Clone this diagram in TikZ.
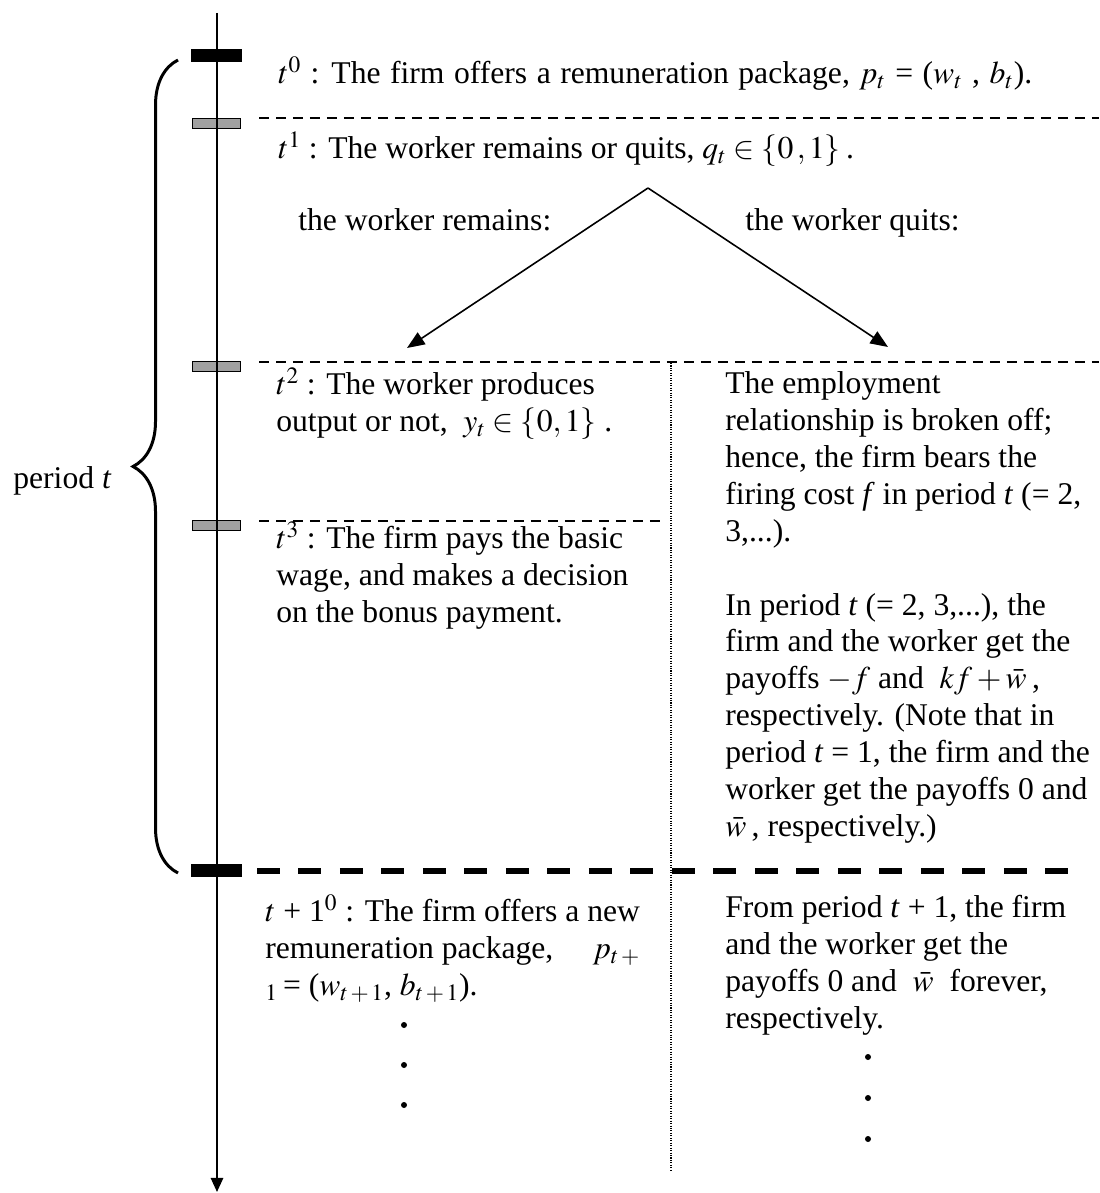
\documentclass[tikz,border=0pt]{standalone}
\usepackage{mathptmx}
\usepackage[no-math]{fontspec}
\setmainfont{Liberation Serif}
\usetikzlibrary{arrows.meta,decorations.pathreplacing}
\newcommand{\body}{\fontsize{18}{21}\selectfont}
\newcommand{\topline}{\rule{0pt}{15pt}}
\newcommand{\wbar}{\smash{$\bar{w}$}}

\begin{document}
\begin{tikzpicture}[x=0.02cm, y=-0.02cm,
    txt/.style={anchor=north west, inner sep=0pt, align=left, font=\body},
    lbl/.style={anchor=base west, inner sep=0pt, font=\body},
    tickbar/.style={draw, line width=0.8pt, fill=black!37, minimum width=0.95cm, minimum height=0.19cm, inner sep=0pt},
    bigbar/.style={fill=black, minimum width=1.02cm, minimum height=0.26cm, inner sep=0pt},
    sep/.style={dash pattern=on 0.2cm off 0.14cm, line width=1.1pt},
    bigsep/.style={dash pattern=on 0.46cm off 0.37cm, line width=3.4pt},
    arr/.style={-{Triangle[length=10pt,width=8pt]}, line width=0.9pt}
]
\useasboundingbox (0,0) rectangle (1099,1193);

\node[bigbar] (b0) at (216.5,55.5) {};
\node[tickbar] (b1) at (216.5,123.5) {};
\node[tickbar] (b2) at (216.5,366.5) {};
\node[tickbar] (b3) at (216.5,525.5) {};
\node[bigbar] (b4) at (216.5,870.5) {};

\coordinate (axtop) at (217,13);
\coordinate (axbot) at (217,1192);
\draw[line width=1.1pt, -{Triangle[length=8pt,width=7pt]}] (axtop) -- (axbot);

\draw[sep] (259,118) -- (1099,118);
\draw[sep] (259,362) -- (1099,362);
\draw[sep] (259,521) -- (660,521);
\draw[bigsep] (257,871) -- (1085,871);
\draw[line width=0.6pt, dash pattern=on 0.6pt off 0.8pt] (671,363) -- (671,1172);

\draw[line width=1.7pt, decorate, decoration={brace, amplitude=0.9cm}] (178,873) -- (178,60);
\node[lbl] (per) at (13,488) {period \textit{t}};

\node[txt] (s0) at (278,56) {\spaceskip=0.3em\topline$t^0$ : The firm offers a remuneration package, $p_t$ = ($w_t$ , $b_t$).};
\node[txt] (s1) at (278,131) {\topline$t^1$ : The worker remains or quits, $q_t\in\{0\,,1\}$\,.};

\coordinate (fork) at (648,188);
\coordinate (stay) at (407,348);
\coordinate (quit) at (888,347);
\draw[arr] (fork) -- (stay);
\draw[arr] (fork) -- (quit);
\node[lbl] (rem) at (298,230) {the worker remains:};
\node[lbl] (qts) at (745,230) {the worker quits:};

\node[txt] (s2) at (276,367) {\topline$t^2$ : The worker produces\\output or not, \ $y_t\in\{0, 1\}$ .};
\node[txt] (s3) at (276,521) {\topline$t^3$ : The firm pays the basic\\wage, and makes a decision\\on the bonus payment.};
\node[txt] (brk) at (725,367) {\topline The employment\\relationship is broken off;\\hence, the firm bears the\\firing cost \textit{f} in period \textit{t} (= 2,\\3,...).\\[21pt]In period \textit{t} (= 2, 3,...), the\\firm and the worker get the\\payoffs $-f$ and \ $kf+{}$\wbar\,,\\respectively. (Note that in\\period \textit{t} = 1, the firm and the\\worker get the payoffs 0 and\\\wbar\,, respectively.)};

\node[txt] (n0) at (265,894) {\topline$t$ + 1$^0$ : The firm offers a new\\remuneration package, \quad $p_{t\,+}$\\$_1$\,= ($w_{t\,+\,1}$, $b_{t\,+\,1}$).};
\node[txt] (fwd) at (725,891) {\topline From period \textit{t} + 1, the firm\\and the worker get the\\payoffs 0 and \ \wbar\ \ forever,\\respectively.};

\foreach \y in {1025,1065,1105} \fill (404,\y) circle (0.06cm);
\foreach \y in {1057,1098,1139} \fill (868,\y) circle (0.06cm);
\end{tikzpicture}
\end{document}
